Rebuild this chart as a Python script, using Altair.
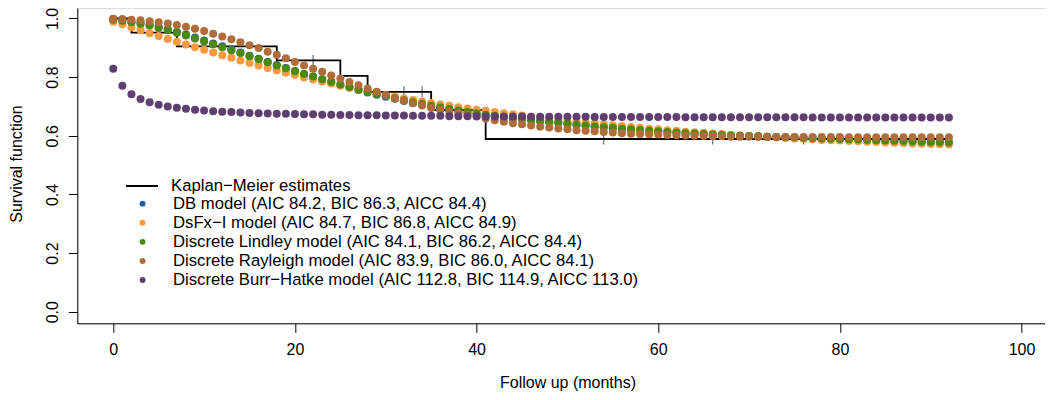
import altair as alt
import pandas as pd

# ---------------- data ----------------
months = list(range(93))

db = [0.998, 0.994, 0.989, 0.984, 0.978, 0.971, 0.963, 0.954, 0.945, 0.935,
      0.925, 0.915, 0.905, 0.895, 0.884, 0.873, 0.863, 0.852, 0.841, 0.831,
      0.821, 0.811, 0.801, 0.792, 0.783, 0.774, 0.765, 0.756, 0.748, 0.740,
      0.733, 0.726, 0.719, 0.712, 0.706, 0.700, 0.695, 0.690, 0.685, 0.680,
      0.676, 0.672, 0.668, 0.664, 0.660, 0.657, 0.654, 0.650, 0.647, 0.644,
      0.641, 0.638, 0.635, 0.632, 0.629, 0.627, 0.624, 0.622, 0.620, 0.617,
      0.615, 0.613, 0.611, 0.609, 0.608, 0.606, 0.604, 0.603, 0.601, 0.600,
      0.599, 0.598, 0.597, 0.596, 0.595, 0.594, 0.593, 0.592, 0.591, 0.590,
      0.589, 0.588, 0.587, 0.586, 0.585, 0.584, 0.583, 0.582, 0.581, 0.580,
      0.579, 0.578, 0.577]

dsfx = [0.989, 0.980, 0.970, 0.960, 0.950, 0.940, 0.930, 0.921, 0.911, 0.902,
        0.893, 0.884, 0.875, 0.866, 0.857, 0.848, 0.840, 0.831, 0.823, 0.815,
        0.807, 0.799, 0.792, 0.785, 0.778, 0.771, 0.764, 0.757, 0.751, 0.745,
        0.739, 0.733, 0.727, 0.722, 0.717, 0.712, 0.707, 0.702, 0.697, 0.693,
        0.689, 0.685, 0.681, 0.677, 0.673, 0.669, 0.665, 0.662, 0.658, 0.655,
        0.651, 0.648, 0.645, 0.642, 0.639, 0.636, 0.633, 0.630, 0.627, 0.624,
        0.622, 0.619, 0.617, 0.614, 0.612, 0.610, 0.608, 0.606, 0.603, 0.601,
        0.599, 0.598, 0.596, 0.594, 0.592, 0.591, 0.589, 0.588, 0.586, 0.585,
        0.584, 0.582, 0.581, 0.580, 0.579, 0.577, 0.576, 0.575, 0.574, 0.573,
        0.572, 0.571, 0.570]

lindley = [0.996, 0.992, 0.987, 0.982, 0.976, 0.968, 0.960, 0.951, 0.942, 0.932,
           0.922, 0.912, 0.902, 0.892, 0.882, 0.871, 0.861, 0.851, 0.840, 0.830,
           0.820, 0.811, 0.802, 0.793, 0.784, 0.775, 0.766, 0.758, 0.750, 0.742,
           0.735, 0.728, 0.721, 0.714, 0.708, 0.702, 0.697, 0.691, 0.686, 0.681,
           0.677, 0.672, 0.668, 0.664, 0.660, 0.657, 0.654, 0.650, 0.647, 0.644,
           0.641, 0.638, 0.635, 0.632, 0.629, 0.627, 0.624, 0.622, 0.620, 0.617,
           0.615, 0.613, 0.611, 0.609, 0.608, 0.606, 0.604, 0.603, 0.601, 0.600,
           0.599, 0.598, 0.597, 0.596, 0.595, 0.594, 0.593, 0.592, 0.591, 0.590,
           0.589, 0.588, 0.587, 0.586, 0.585, 0.584, 0.583, 0.582, 0.581, 0.580,
           0.579, 0.578, 0.577]

rayleigh = [0.999, 0.998, 0.996, 0.994, 0.991, 0.987, 0.983, 0.978, 0.972, 0.965,
            0.957, 0.948, 0.939, 0.929, 0.919, 0.909, 0.899, 0.887, 0.876, 0.864,
            0.852, 0.840, 0.829, 0.818, 0.806, 0.795, 0.783, 0.772, 0.761, 0.750,
            0.739, 0.729, 0.720, 0.711, 0.703, 0.695, 0.689, 0.683, 0.677, 0.671,
            0.666, 0.659, 0.653, 0.648, 0.643, 0.639, 0.635, 0.631, 0.628, 0.625,
            0.622, 0.619, 0.617, 0.615, 0.613, 0.611, 0.609, 0.607, 0.606, 0.605,
            0.604, 0.603, 0.602, 0.601, 0.600, 0.599, 0.598, 0.598, 0.597, 0.597,
            0.597, 0.596, 0.596, 0.596, 0.596, 0.596, 0.596, 0.596, 0.596, 0.596,
            0.596, 0.595, 0.595, 0.595, 0.595, 0.595, 0.595, 0.595, 0.595, 0.595,
            0.595, 0.595, 0.595]

burr = [0.829, 0.771, 0.742, 0.725, 0.714, 0.706, 0.700, 0.696, 0.692, 0.689,
        0.686, 0.684, 0.682, 0.681, 0.679, 0.678, 0.677, 0.676, 0.675, 0.675,
        0.674, 0.673, 0.673, 0.672, 0.672, 0.671, 0.671, 0.670, 0.670, 0.670,
        0.669, 0.669, 0.669, 0.668, 0.668, 0.668, 0.668, 0.667, 0.667, 0.667,
        0.667, 0.666, 0.666, 0.666, 0.666, 0.666, 0.665, 0.665, 0.665, 0.665,
        0.665, 0.665, 0.665, 0.664, 0.664, 0.664, 0.664, 0.664, 0.664, 0.664,
        0.664, 0.664, 0.664, 0.663, 0.663, 0.663, 0.663, 0.663, 0.663, 0.663,
        0.663, 0.663, 0.663, 0.663, 0.663, 0.663, 0.663, 0.662, 0.662, 0.662,
        0.662, 0.662, 0.662, 0.662, 0.662, 0.662, 0.662, 0.662, 0.662, 0.662,
        0.662, 0.662, 0.662]

km_time = [0, 2, 7, 18, 25, 28, 35, 41, 92]
km_surv = [1.0, 0.952, 0.905, 0.857, 0.804, 0.750, 0.688, 0.589, 0.589]
cens_time = [22, 32, 34, 54, 66, 76]
cens_surv = [0.857, 0.750, 0.750, 0.589, 0.589, 0.589]

km_label = "Kaplan\u2212Meier estimates"
model_labels = [
    "DB model (AIC 84.2, BIC 86.3, AICC 84.4)",
    "DsFx\u2212I model (AIC 84.7, BIC 86.8, AICC 84.9)",
    "Discrete Lindley model (AIC 84.1, BIC 86.2, AICC 84.4)",
    "Discrete Rayleigh model (AIC 83.9, BIC 86.0, AICC 84.1)",
    "Discrete Burr\u2212Hatke model (AIC 112.8, BIC 114.9, AICC 113.0)",
]
model_colors = ["#1F5FA6", "#FD9A3F", "#4B8A0E", "#B06D3A", "#5E3F70"]

x_ticks = [0, 20, 40, 60, 80, 100]
y_ticks = [0.0, 0.2, 0.4, 0.6, 0.8, 1.0]

# ---------------- tables ----------------
rows = []
for k, (lab, vals) in enumerate(zip(model_labels, [db, dsfx, lindley, rayleigh, burr])):
    for t, v in zip(months, vals):
        rows.append({"t": t, "s": v, "model": lab, "k": k})
pts = pd.DataFrame(rows)
km = pd.DataFrame({"t": km_time, "s": km_surv, "lab": [km_label] * len(km_time)})
cens = pd.DataFrame({"t": cens_time, "s": cens_surv})

FONT = "Liberation Sans"
LEG_FS = 16.7

xscale = alt.Scale(domain=[-3.96, 102.58], nice=False, zero=False)
yscale = alt.Scale(domain=[-0.0396, 1.0358], nice=False, zero=False)

xaxis = alt.Axis(values=x_ticks, title="Follow up (months)", grid=False,
                 tickSize=9, tickColor="black", domainColor="black",
                 labelFontSize=16, labelColor="black", labelFont=FONT,
                 labelBaseline="alphabetic", labelPadding=22.7, labelFlush=False,
                 titleFontSize=16, titleFont=FONT, titleFontWeight="normal",
                 titleColor="black", titleX=490.2, titleY=64.7,
                 titleBaseline="alphabetic", titleAlign="center")
yaxis = alt.Axis(values=y_ticks, format=".1f", title="Survival function", grid=False,
                 tickSize=9, tickColor="black", domainColor="black",
                 labelFontSize=16, labelColor="black", labelFont=FONT,
                 labelAngle=270, labelAlign="center", labelBaseline="alphabetic",
                 labelPadding=11, labelFlush=False,
                 titleFontSize=16, titleFont=FONT, titleFontWeight="normal",
                 titleColor="black", titleAngle=270, titleX=-55.6, titleY=155.6,
                 titleBaseline="alphabetic", titleAlign="center")

X = alt.X("t:Q", scale=xscale, axis=xaxis)
Y = alt.Y("s:Q", scale=yscale, axis=yaxis)

km_line = alt.Chart(km).mark_line(interpolate="step-after", strokeWidth=1.8).encode(
    x=X, y=Y,
    stroke=alt.Stroke("lab:N", scale=alt.Scale(domain=[km_label], range=["black"]),
                      legend=alt.Legend(orient="none", legendX=47.7, legendY=161,
                                        title=None, symbolType="stroke", symbolSize=1024,
                                        symbolStrokeWidth=1.8, labelFontSize=LEG_FS,
                                        labelFont=FONT, labelColor="black",
                                        labelOffset=12, labelLimit=1000, padding=0)),
)

cens_marks = alt.Chart(cens).mark_tick(orient="vertical", color="black",
                                       thickness=1, size=11).encode(x=X, y=Y)

points = alt.Chart(pts).mark_circle(size=64, opacity=1).encode(
    x=X, y=Y,
    color=alt.Color("model:N", scale=alt.Scale(domain=model_labels, range=model_colors),
                    legend=alt.Legend(orient="none", legendX=56.9, legendY=187.3,
                                      title=None, symbolType="circle", symbolSize=35,
                                      symbolOpacity=1, labelFontSize=LEG_FS, labelFont=FONT,
                                      labelColor="black", labelOffset=22.1,
                                      labelLimit=1000, rowPadding=1.1, padding=0)),
    order=alt.Order("k:Q"),
)

chart = alt.layer(km_line, cens_marks, points).properties(
    width=967.7, height=315.3,
    autosize=alt.AutoSizeParams(type="none"),
    padding={"left": 69.3, "top": 0, "right": 0, "bottom": 70},
    background="white",
).configure_view(strokeWidth=0).configure(font=FONT)

chart.save("out.html", embed_options={"renderer": "svg", "actions": False})
